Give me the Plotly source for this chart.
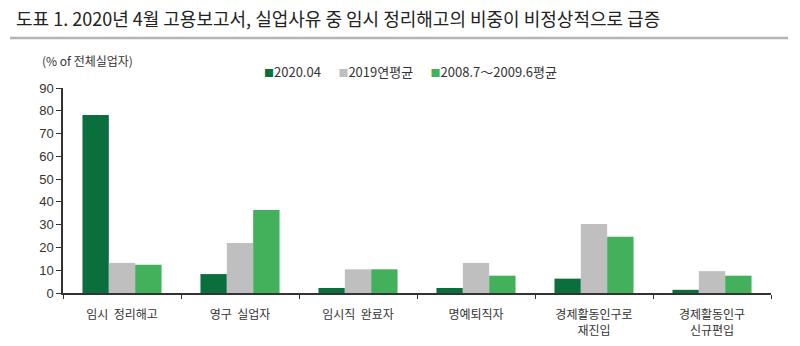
import plotly.graph_objects as go

# Categories (reason for unemployment) and series values, % of total unemployed
categories = ["임시  정리해고", "영구  실업자", "임시직  완료자", "명예퇴직자",
              "경제활동인구로<br>재진입", "경제활동인구<br>신규편입"]
series_names = ["2020.04", "2019연평균", "2008.7～2009.6평균"]
apr_2020 = [78.2, 8.3, 2.2, 2.2, 6.3, 1.4]
avg_2019 = [13.2, 21.9, 10.4, 13.2, 30.3, 9.6]
avg_0809 = [12.4, 36.4, 10.4, 7.6, 24.7, 7.6]
y_ticks = [0, 10, 20, 30, 40, 50, 60, 70, 80, 90]

colors = ["#0b6e3d", "#bfbfbf", "#43b05c"]
values = [apr_2020, avg_2019, avg_0809]

FONT = "Noto Sans CJK KR"
W, H = 800, 346
ML, MR, MT, MB = 63, 29, 88, 53
pw = W - ML - MR
ph = H - MT - MB


def px_x(x):
    return (x - ML) / pw


def px_y(y):
    return (H - MB - y) / ph


fig = go.Figure()
for name, vals, col in zip(series_names, values, colors):
    fig.add_trace(go.Bar(x=categories, y=vals, name=name, marker_color=col,
                         marker_line_width=0, showlegend=False))

# Legend drawn as a single line of coloured squares and labels
legend_text = "      ".join(
    f"<span style='color:{c};font-size:10px'>■</span>{n}" for n, c in zip(series_names, colors))
annotations = [
    dict(text=legend_text, x=px_x(262), y=px_y(72), xref="paper", yref="paper",
         xanchor="left", yanchor="middle", showarrow=False,
         font=dict(family=FONT, size=13, color="#333333")),
    dict(text="(% of 전체실업자)", x=px_x(40), y=px_y(60), xref="paper", yref="paper",
         xanchor="left", yanchor="middle", showarrow=False,
         font=dict(family=FONT, size=12, color="#333333")),
    dict(text="도표 1. 2020년 4월 고용보고서, 실업사유 중 임시 정리해고의 비중이 비정상적으로 급증",
         x=px_x(14), y=px_y(18), xref="paper", yref="paper",
         xanchor="left", yanchor="middle", showarrow=False,
         font=dict(family=FONT, size=18, color="#222222")),
]

shapes = [
    dict(type="line", xref="paper", yref="paper",
         x0=px_x(10), x1=px_x(788), y0=px_y(38), y1=px_y(38),
         line=dict(color="#b4b4b4", width=2.5)),
]

fig.update_layout(
    width=W, height=H,
    margin=dict(l=ML, r=MR, t=MT, b=MB),
    paper_bgcolor="white", plot_bgcolor="white",
    barmode="group", bargap=0.33, bargroupgap=0,
    annotations=annotations, shapes=shapes,
    font=dict(family=FONT, size=12, color="#333333"),
)
fig.update_xaxes(
    showline=True, linecolor="#333333", linewidth=1.5,
    ticks="outside", tickson="boundaries", ticklen=4, tickcolor="#333333",
    showgrid=False, ticklabelstandoff=10, automargin=False,
    tickfont=dict(family=FONT, size=12, color="#333333"),
)
fig.update_yaxes(
    range=[0, 90], tickvals=y_ticks, showline=True, linecolor="#333333",
    linewidth=1.5, ticks="outside", ticklen=5, tickcolor="#333333",
    showgrid=False, zeroline=False, automargin=False,
    tickfont=dict(family="Liberation Sans", size=13, color="#333333"),
)

fig.write_html("out.html")
